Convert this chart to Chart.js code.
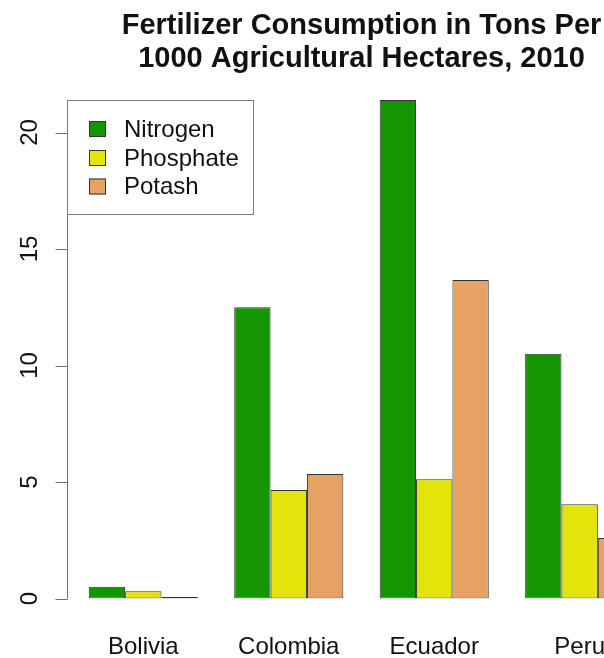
<!DOCTYPE html>
<html>
<head>
<meta charset="utf-8">
<script src="https://cdn.jsdelivr.net/npm/chart.js@4"></script>
<style>
  html, body { margin: 0; padding: 0; background: #fff; }
  #wrap { width: 604px; height: 658px; overflow: hidden; position: relative; }
  #wrap canvas { position: absolute; left: 0; top: 0; }
</style>
</head>
<body>
<div id="wrap"><canvas id="fert" width="723" height="658"></canvas></div>
<script>
// countries and fertilizer use (tons per 1000 ha)
const countries = ["Bolivia", "Colombia", "Ecuador", "Peru"];
const nitrogen = [0.50, 12.5, 21.4, 10.5];
const phosphate = [0.31, 4.66, 5.12, 4.04];
const potash = [0.06, 5.34, 13.67, 2.6];
const yTicks = [0, 5, 10, 15, 20];

const FONT = "'Liberation Sans', Arial, Helvetica, sans-serif";

/**
 * Draws the R-style y axis (rotated labels) and the boxed legend
 */
const baseAxisPlugin = {
  id: "baseAxis",
  afterDraw(chart) {
    const ctx = chart.ctx;
    const area = chart.chartArea;
    const y = chart.scales.y;
    const barW = area.width / 16;
    const axisX = Math.round(area.left - 0.1 * barW) + 0.5;

    ctx.save();
    ctx.strokeStyle = "#6e6e6e";
    ctx.lineWidth = 1;
    ctx.beginPath();
    ctx.moveTo(axisX, y.getPixelForValue(yTicks[0]));
    ctx.lineTo(axisX, y.getPixelForValue(yTicks[yTicks.length - 1]));
    yTicks.forEach((v) => {
      const py = Math.round(y.getPixelForValue(v)) + 0.5;
      ctx.moveTo(axisX - 12, py);
      ctx.lineTo(axisX, py);
    });
    ctx.stroke();

    ctx.fillStyle = "#111";
    ctx.font = "24px " + FONT;
    ctx.textAlign = "center";
    ctx.textBaseline = "middle";
    yTicks.forEach((v) => {
      ctx.save();
      ctx.translate(axisX - 37, y.getPixelForValue(v));
      ctx.rotate(-Math.PI / 2);
      ctx.fillText(String(v), 0, 0);
      ctx.restore();
    });

    // legend box
    const lx = axisX, ly = 100.5, lw = 186, lh = 114;
    ctx.fillStyle = "#fff";
    ctx.fillRect(lx, ly, lw, lh);
    ctx.strokeStyle = "#7a7a7a";
    ctx.strokeRect(lx, ly, lw, lh);
    const rows = [129, 158, 186.5];
    chart.data.datasets.forEach((ds, i) => {
      ctx.fillStyle = ds.backgroundColor;
      ctx.fillRect(89, rows[i] - 8, 17, 16);
      ctx.strokeStyle = "#333";
      ctx.strokeRect(89.5, rows[i] - 7.5, 16, 15);
      ctx.fillStyle = "#111";
      ctx.textAlign = "left";
      ctx.fillText(ds.label, 124, rows[i] + 1);
    });
    ctx.restore();
  },
};

const createBarGraph = (canvas) => {
  const ctx = canvas.getContext("2d");
  const common = { borderColor: "#333", borderWidth: 1, borderSkipped: false };

  return new Chart(ctx, {
    type: "bar",
    data: {
      labels: countries,
      datasets: [
        { label: "Nitrogen", data: nitrogen, backgroundColor: "#149600", ...common },
        { label: "Phosphate", data: phosphate, backgroundColor: "#e2e40a", ...common },
        { label: "Potash", data: potash, backgroundColor: "#e6a164", ...common },
      ],
    },
    options: {
      responsive: false,
      animation: false,
      devicePixelRatio: 1,
      categoryPercentage: 0.75,
      barPercentage: 1.0,
      layout: { padding: { left: 70.6, right: 70.6, top: 0, bottom: 0 } },
      scales: {
        x: {
          grid: { display: false, drawTicks: false },
          border: { display: false },
          ticks: {
            color: "#111",
            font: { family: FONT, size: 24 },
            padding: 34,
          },
          afterFit: (scale) => { scale.height = 59.5; },
        },
        y: {
          min: 0,
          max: 22,
          grid: { display: false, drawTicks: false },
          border: { display: false },
          ticks: { display: false, stepSize: 5 },
          afterFit: (scale) => { scale.width = 0; },
        },
      },
      plugins: {
        legend: { display: false },
        tooltip: { enabled: false },
        title: {
          display: true,
          text: ["Fertilizer Consumption in Tons Per", "1000 Agricultural Hectares, 2010"],
          color: "#111",
          font: { family: FONT, size: 29, weight: "bold", lineHeight: 1.14 },
          padding: { top: 9.5, bottom: 10.3 },
        },
      },
    },
    plugins: [baseAxisPlugin],
  });
};

createBarGraph(document.getElementById("fert"));
</script>
</body>
</html>
